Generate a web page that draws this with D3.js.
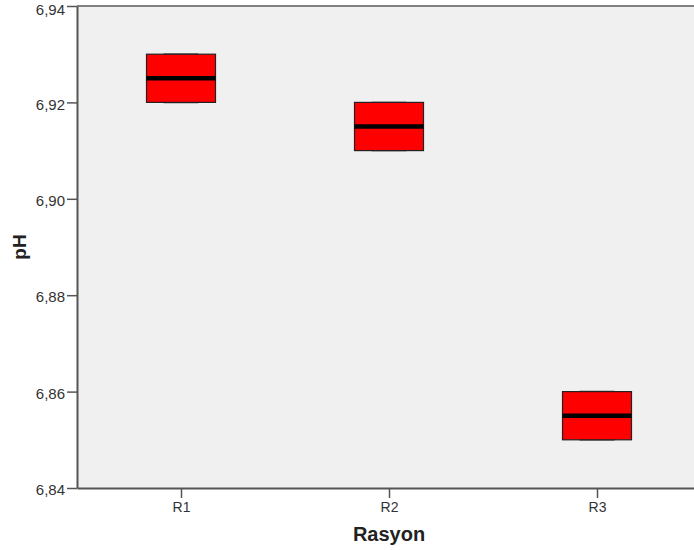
<!DOCTYPE html>
<html>
<head>
<meta charset="utf-8">
<script src="https://cdn.jsdelivr.net/npm/d3@7"></script>
<style>
  body { margin: 0; background: #fff; }
  svg { display: block; font-family: Arial, "Liberation Sans", sans-serif; }
</style>
</head>
<body>
<div id="chart"></div>
<script>
// data
var groups = ["R1", "R2", "R3"];
var mins    = [6.92, 6.91, 6.85];
var q1s     = [6.92, 6.91, 6.85];
var medians = [6.925, 6.915, 6.855];
var q3s     = [6.93, 6.92, 6.86];
var maxs    = [6.93, 6.92, 6.86];
var yTicks  = [6.84, 6.86, 6.88, 6.90, 6.92, 6.94];

var width = 694, height = 550;
var plotLeft = 77, plotTop = 6, plotBottom = 488, plotRight = 701;

var svg = d3.select("#chart").append("svg")
  .attr("width", width)
  .attr("height", height);

var x = d3.scalePoint().domain(groups).range([plotLeft, plotRight]).padding(0.5);
var y = d3.scaleLinear().domain([6.84, 6.94]).range([plotBottom, plotTop]);

// plot background
svg.append("rect")
  .attr("x", plotLeft).attr("y", plotTop)
  .attr("width", width - plotLeft).attr("height", plotBottom - plotTop)
  .attr("fill", "#f0f0f0");

// top frame line
svg.append("line")
  .attr("x1", plotLeft).attr("x2", width)
  .attr("y1", plotTop).attr("y2", plotTop)
  .attr("stroke", "#808080").attr("stroke-width", 2);

var fmt = function(d) { return d3.format(".2f")(d).replace(".", ","); };

var yAxis = d3.axisLeft(y).tickValues(yTicks).tickFormat(fmt).tickSize(10).tickSizeOuter(0).tickPadding(2);
var gy = svg.append("g").attr("transform", "translate(" + plotLeft + ",0)").call(yAxis);
gy.select(".domain").attr("stroke", "#555").attr("stroke-width", 2);
gy.selectAll(".tick line").attr("stroke", "#555").attr("stroke-width", 1.5);
gy.selectAll(".tick text")
  .style("font-size", "15px").style("font-family", "Arial, 'Liberation Sans', sans-serif")
  .attr("fill", "#333")
  .attr("dy", function(d) { return d === 6.94 ? "0.55em" : "0.45em"; });

var xAxis = d3.axisBottom(x).tickSize(10).tickSizeOuter(0).tickPadding(4);
var gx = svg.append("g").attr("transform", "translate(0," + plotBottom + ")").call(xAxis);
gx.select(".domain").attr("stroke", "#555").attr("stroke-width", 2);
gx.selectAll(".tick line").attr("stroke", "#555").attr("stroke-width", 1.5);
gx.selectAll(".tick text")
  .style("font-size", "14px").style("font-family", "Arial, 'Liberation Sans', sans-serif")
  .attr("fill", "#333");

// boxes
var boxW = 69, whiskW = 35;
groups.forEach(function(g, i) {
  var cx = x(g);
  svg.append("line")
    .attr("x1", cx - whiskW / 2).attr("x2", cx + whiskW / 2)
    .attr("y1", y(maxs[i])).attr("y2", y(maxs[i]))
    .attr("stroke", "#333").attr("stroke-width", 1.5);
  svg.append("line")
    .attr("x1", cx - whiskW / 2).attr("x2", cx + whiskW / 2)
    .attr("y1", y(mins[i])).attr("y2", y(mins[i]))
    .attr("stroke", "#333").attr("stroke-width", 1.5);
  svg.append("rect")
    .attr("x", cx - boxW / 2).attr("y", y(q3s[i]))
    .attr("width", boxW).attr("height", y(q1s[i]) - y(q3s[i]))
    .attr("fill", "#ff0000").attr("stroke", "#222").attr("stroke-width", 1.2);
  svg.append("line")
    .attr("x1", cx - boxW / 2).attr("x2", cx + boxW / 2)
    .attr("y1", y(medians[i])).attr("y2", y(medians[i]))
    .attr("stroke", "#000").attr("stroke-width", 4.5);
});

// axis titles
svg.append("text")
  .attr("x", x("R2")).attr("y", 541)
  .attr("text-anchor", "middle")
  .style("font-size", "20px").attr("font-weight", "bold").attr("fill", "#222")
  .text("Rasyon");

svg.append("text")
  .attr("transform", "translate(26," + ((plotTop + plotBottom) / 2) + ") rotate(-90)")
  .attr("text-anchor", "middle")
  .style("font-size", "19px").attr("font-weight", "bold").attr("fill", "#222")
  .text("pH");
</script>
</body>
</html>
